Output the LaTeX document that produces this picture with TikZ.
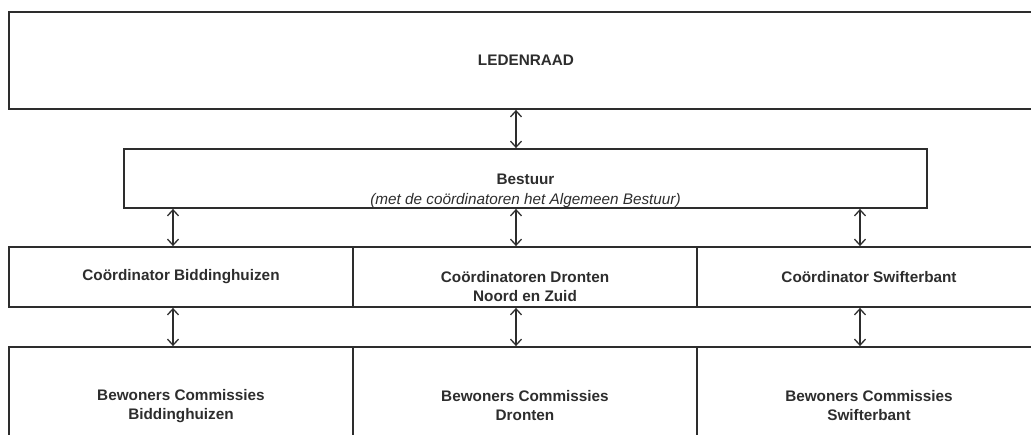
\documentclass[tikz,border=0pt]{standalone}
\usepackage{fontspec}
\setmainfont{Liberation Sans}
\usetikzlibrary{arrows.meta}
\definecolor{ink}{RGB}{45,45,45}
\begin{document}
\begin{tikzpicture}[x=1pt,y=-1pt,
  box/.style={draw=ink, line width=1.8pt, inner sep=0pt, align=center,
    text=ink, font=\fontsize{15.3}{19}\selectfont\bfseries},
  rowbox/.style={box, minimum width=344pt},
  txt/.style={inner sep=0pt, align=center, text=ink, font=\fontsize{15.3}{19.5}\selectfont},
  arr/.style={draw=ink, line width=1.3pt,
    {Straight Barb[length=6pt,width=11pt]}-{Straight Barb[length=6pt,width=11pt]}}]
\useasboundingbox (0,0) rectangle (1031,434);
\clip (0,0) rectangle (1031,434);
% top
\node[box, minimum width=1034pt, minimum height=97pt] (led) at (526,60.5) {LEDENRAAD};
% bestuur
\node[box, minimum width=803pt, minimum height=59pt] (bestuur) at (525.5,178.5) {};
\node[txt] (bestuurtxt) at (525.5,191) {\textbf{Bestuur}\\\textit{(met de coördinatoren het Algemeen Bestuur)}};
% coordinators
\node[rowbox, minimum height=60pt] (cb) at (181,277) {Coördinator Biddinghuizen};
\node[rowbox, minimum height=60pt] (cd) at (525,277) {};
\node[txt, font=\fontsize{15.3}{19}\selectfont\bfseries, anchor=north] (cdtxt) at (525,271) {Coördinatoren Dronten\\Noord en Zuid};
\node[rowbox, minimum height=60pt] (cs) at (869,277) {Coördinator Swifterbant};
% bewoners
\node[rowbox, minimum height=118pt] (bb) at (181,406) {Bewoners Commissies\\Biddinghuizen};
\node[rowbox, minimum height=118pt] (bd) at (525,406) {Bewoners Commissies\\Dronten};
\node[rowbox, minimum height=118pt] (bs) at (869,406) {Bewoners Commissies\\Swifterbant};
% arrow columns
\coordinate (xl) at (173,0);
\coordinate (xm) at (516,0);
\coordinate (xr) at (860,0);
\draw[arr] (xm |- led.south) -- (xm |- bestuur.north);
\draw[arr] (xl |- bestuur.south) -- (xl |- cb.north);
\draw[arr] (xm |- bestuur.south) -- (xm |- cd.north);
\draw[arr] (xr |- bestuur.south) -- (xr |- cs.north);
\draw[arr] (xl |- cb.south) -- (xl |- bb.north);
\draw[arr] (xm |- cd.south) -- (xm |- bd.north);
\draw[arr] (xr |- cs.south) -- (xr |- bs.north);
\end{tikzpicture}
\end{document}
